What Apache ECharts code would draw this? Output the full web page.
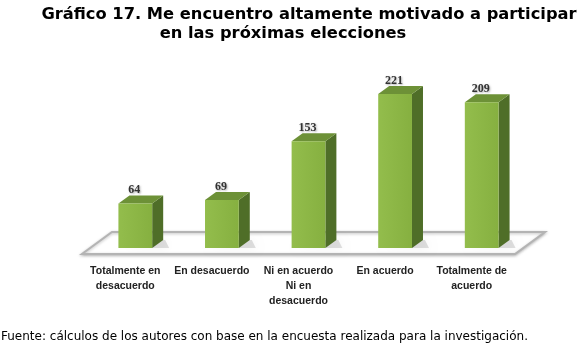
<!DOCTYPE html>
<html>
<head>
<meta charset="utf-8">
<script src="https://cdn.jsdelivr.net/npm/echarts@6/dist/echarts.min.js"></script>
<style>
html, body { margin: 0; padding: 0; background: #fff; }
#container { width: 580px; height: 354px; }
</style>
</head>
<body>
<div id="container"></div>
<script>
// categorias y valores del grafico
var categories = ['Totalmente en\ndesacuerdo', 'En desacuerdo', 'Ni en acuerdo\nNi en\ndesacuerdo', 'En acuerdo', 'Totalmente de\nacuerdo'];
var values = [64, 69, 153, 221, 209];
var titleLines = ['Gráfico 17. Me encuentro altamente motivado a participar', 'en las próximas elecciones'];
var sourceText = 'Fuente: cálculos de los autores con base en la encuesta realizada para la investigación.';

var dom = document.getElementById('container');
var myChart = echarts.init(dom);

// profundidad del efecto 3D
var depthX = 11;
var depthY = 8;

// piso en perspectiva
function renderFloor(params, api) {
	var cs = params.coordSys;
	var base = cs.y + cs.height;
	var fl = cs.x - 10, fr = cs.x + cs.width - 10;
	var fy = base + 6, by = base - 16;
	return {
		type: 'polygon',
		shape: { points: [[fl, fy], [fr, fy], [fr + 30, by], [fl + 30, by]] },
		style: { fill: '#fff', stroke: '#b4b4b4', lineWidth: 2, shadowBlur: 3, shadowColor: 'rgba(0,0,0,0.25)', shadowOffsetY: 1 }
	};
}

// barra 3D
function renderBar(params, api) {
	var idx = api.value(0);
	var val = api.value(1);
	var base = api.coord([idx, 0]);
	var top = api.coord([idx, val]);
	var w = api.size([1, 0])[0] * 0.39;
	var x0 = base[0] - w / 2, x1 = base[0] + w / 2;
	var y0 = top[1], y1 = base[1];
	return {
		type: 'group',
		children: [{
			type: 'polygon',
			shape: { points: [[x0 + 4, y1], [x1 + depthX + 6, y1], [x1 + depthX + 2, y1 - depthY], [x1, y1 - depthY]] },
			style: { fill: 'rgba(0,0,0,0.12)', shadowBlur: 8, shadowColor: 'rgba(0,0,0,0.4)' }
		}, {
			type: 'polygon',
			shape: { points: [[x1, y0], [x1 + depthX, y0 - depthY], [x1 + depthX, y1 - depthY], [x1, y1]] },
			style: { fill: '#4f6e28' }
		}, {
			type: 'polygon',
			shape: { points: [[x0, y0], [x0 + depthX, y0 - depthY], [x1 + depthX, y0 - depthY], [x1, y0]] },
			style: { fill: '#6d9137' }
		}, {
			type: 'rect',
			shape: { x: x0, y: y0, width: w, height: y1 - y0 },
			style: {
				fill: new echarts.graphic.LinearGradient(0, 0, 1, 0, [
					{ offset: 0, color: '#93bd4c' },
					{ offset: 1, color: '#86b040' }
				])
			}
		}, {
			type: 'text',
			x: base[0] - 1,
			y: y0 - 13,
			style: {
				text: String(val),
				fill: '#333',
				font: 'bold 12px "Liberation Serif", serif',
				align: 'center',
				verticalAlign: 'middle',
				textShadowColor: 'rgba(0,0,0,0.3)',
				textShadowBlur: 2,
				textShadowOffsetX: 1,
				textShadowOffsetY: 1
			}
		}]
	};
}

var option = {
	animation: false,
	backgroundColor: '#fff',
	grid: { left: 92, right: 55, top: 73.75, bottom: 106 },
	xAxis: {
		type: 'category',
		data: categories,
		axisLine: { show: false },
		axisTick: { show: false },
		axisLabel: {
			margin: 16,
			padding: [0, 20, 0, 0],
			lineHeight: 15,
			color: '#222',
			fontSize: 10.5,
			fontWeight: 'bold',
			fontFamily: '"Liberation Sans", sans-serif',
			interval: 0
		}
	},
	yAxis: {
		type: 'value',
		min: 0,
		max: 250,
		show: false,
		splitLine: { show: false }
	},
	graphic: [{
		type: 'text',
		x: 309, y: 15,
		style: { text: titleLines[0], font: 'bold 16.3px "DejaVu Sans", sans-serif', fill: '#000', align: 'center', verticalAlign: 'middle' }
	}, {
		type: 'text',
		x: 283, y: 34,
		style: { text: titleLines[1], font: 'bold 16.3px "DejaVu Sans", sans-serif', fill: '#000', align: 'center', verticalAlign: 'middle' }
	}, {
		type: 'text',
		x: 1, y: 337,
		style: { text: sourceText, font: '12px "DejaVu Sans", sans-serif', fill: '#000', align: 'left', verticalAlign: 'middle' }
	}],
	series: [{
		type: 'custom',
		name: 'piso',
		renderItem: renderFloor,
		data: [[0, 0]],
		z: 1,
		silent: true
	}, {
		type: 'custom',
		name: 'respuestas',
		renderItem: renderBar,
		encode: { x: 0, y: 1 },
		data: values.map(function(v, i) { return [i, v]; }),
		z: 2
	}]
};
myChart.setOption(option);
</script>
</body>
</html>
